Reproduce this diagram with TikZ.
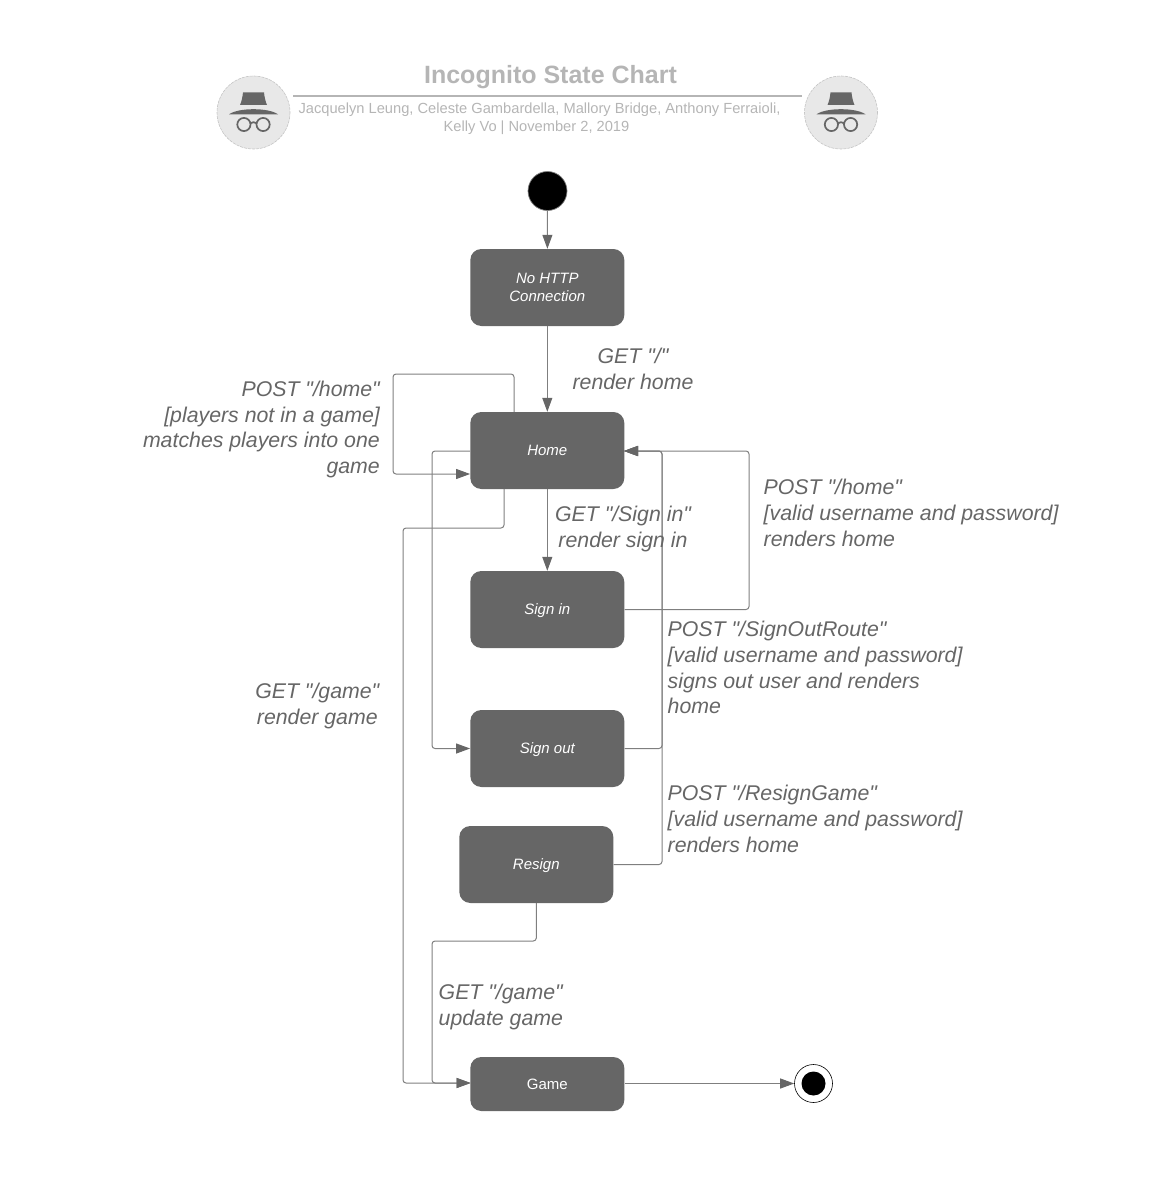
\documentclass[tikz,border=0pt]{standalone}
\usepackage{fontspec}
\newfontfamily\lib{Liberation Sans}
\usetikzlibrary{arrows.meta}
\definecolor{statefill}{HTML}{666666}
\definecolor{linegray}{HTML}{7F7F7F}
\definecolor{headgray}{HTML}{B5B5B5}
\definecolor{labelgray}{HTML}{666666}
\definecolor{iconbg}{HTML}{E8E8E8}
\tikzset{
  statebox/.style={draw=none,fill=statefill,rounded corners=11pt,minimum width=154pt,text=white,inner sep=0pt,align=center,font=\lib\fontsize{15}{18}\selectfont\itshape},
  oneline/.style={text height=12.5pt,text depth=2.5pt},
  conn/.style={draw=linegray,line width=1pt,rounded corners=3pt},
  arr/.style={conn,-{Triangle[length=14pt,width=10pt,color=statefill]}},
  lab/.style={text=labelgray,inner sep=0pt,font=\lib\fontsize{21.3}{25.9}\selectfont\itshape},
  incog/.pic={
    \fill[iconbg] (0,0) circle[radius=36.5];
    \draw[headgray!80,line width=.6pt,dashed,dash pattern=on 3pt off 1pt] (0,0) circle[radius=36.5];
    \fill[statefill] (-10.5,-20) -- (10.5,-20) .. controls (11,-15) and (12,-11) .. (13.5,-7.5) -- (-13.5,-7.5) .. controls (-12,-11) and (-11,-15) .. (-10.5,-20) -- cycle;
    \fill[statefill] (-24.5,1.8) .. controls (-15,-5) and (15,-5) .. (24.5,1.8) -- cycle;
    \draw[statefill,line width=1.7pt] (-9.6,12) circle[radius=6.6] (9.6,12) circle[radius=6.6];
    \draw[statefill,line width=1.7pt] (-3.2,10.8) .. controls (-1,9.3) and (1,9.3) .. (3.2,10.8);
  }
}
\begin{document}
\begin{tikzpicture}[x=1pt,y=-1pt]
\useasboundingbox (0,0) rectangle (1154,1188);
\pic at (253.5,112.5) {incog};
\pic at (841,112.5) {incog};
\node[text=headgray,inner sep=0pt,font=\lib\fontsize{25}{30}\selectfont\bfseries] (title) at (550.5,77.5) {Incognito State Chart};
\coordinate (ruleL) at (293,96);
\coordinate (ruleR) at (802,96);
\draw[headgray,line width=1.6pt] (ruleL) -- (ruleR);
\node[text=headgray,inner sep=0pt,align=center,font=\lib\fontsize{14.67}{17.6}\selectfont] (authors) at (539.5,118.5) {Jacquelyn Leung, Celeste Gambardella, Mallory Bridge, Anthony Ferraioli,\\Kelly Vo | November 2, 2019\hspace*{6pt}};

\node[circle,fill=black,draw=linegray,line width=.7pt,minimum size=39pt,inner sep=0pt] (start) at (547.5,191) {};
\node[statebox,minimum height=77pt] (nohttp) at (547.3,287.5) {No HTTP\\Connection};
\node[statebox,minimum height=77pt,oneline] (home) at (547.3,450.5) {Home};
\node[statebox,minimum height=77pt,oneline] (signin) at (547.3,609.5) {Sign in};
\node[statebox,minimum height=77pt,oneline] (signout) at (547.3,748.5) {Sign out};
\node[statebox,minimum height=77pt,oneline] (resign) at (536.3,864.5) {Resign};
\node[statebox,minimum height=54pt,font=\lib\fontsize{15}{18}\selectfont] (game) at (547.3,1084) {Game};
\node[circle,fill=white,draw=black,line width=.6pt,minimum size=38pt,inner sep=0pt] (end) at (813.5,1083.5) {};
\node[circle,fill=black,minimum size=24pt,inner sep=0pt] (endcore) at (813.5,1083.5) {};

% corner coordinates
\coordinate (loopA) at (514,374);
\coordinate (loopB) at (393,474);
\coordinate (outA) at (432,451);
\coordinate (gameA) at (504,528);
\coordinate (gameB) at (403,1083);
\coordinate (siA) at (749,451);
\coordinate (soA) at (662,451);
\coordinate (resA) at (432,941);
\coordinate (homeE) at (624,451);
\coordinate (gameW) at (470.5,1083);

\draw[arr] (start) -- (nohttp);
\draw[arr] (nohttp) -- (home);
\draw[arr] (home) -- (signin);
\draw[arr] (home.north -| loopA) -- (loopA) -- (loopB |- loopA) -- (loopB) -- (home.west |- loopB);
\draw[arr] (home.west |- outA) -- (outA) -- (outA |- signout) -- (signout.west);
\draw[arr] (home.south -| gameA) -- (gameA) -- (gameB |- gameA) -- (gameB) -- (gameW);
\draw[arr] (signin.east) -- (siA |- signin) -- (siA) -- (homeE);
\draw[arr] (signout.east) -- (soA |- signout) -- (soA) -- (homeE);
\draw[arr] (resign.east) -- (soA |- resign) -- (soA) -- (homeE);
\draw[arr] (resign.south) -- (resign.south |- resA) -- (resA) -- (resA |- gameW) -- (gameW);
\draw[arr] (game.east |- end) -- (end);

\node[lab,align=center] (l1) at (633,369) {GET "/"\\render home};
\node[lab,align=right,anchor=east] (l2) at (380,429.5) {POST "/home"\\{[}players not in a game{]}\\matches players into one\\game};
\node[lab,align=center] (l3) at (623,529) {GET "/Sign in"\\render sign in};
\node[lab,align=left,anchor=west] (l4) at (763.5,513) {POST "/home"\\{[}valid username and password{]}\\renders home};
\node[lab,align=left,anchor=west] (l5) at (667.5,667.5) {POST "/SignOutRoute"\\{[}valid username and password{]}\\signs out user and renders\\home};
\node[lab,align=center] (l6) at (317.3,706) {GET "/game"\\render game};
\node[lab,align=left,anchor=west] (l7) at (667.5,819) {POST "/ResignGame"\\{[}valid username and password{]}\\renders home};
\node[lab,align=left,anchor=west] (l8) at (438.5,1007) {GET "/game"\\update game};
\end{tikzpicture}
\end{document}
